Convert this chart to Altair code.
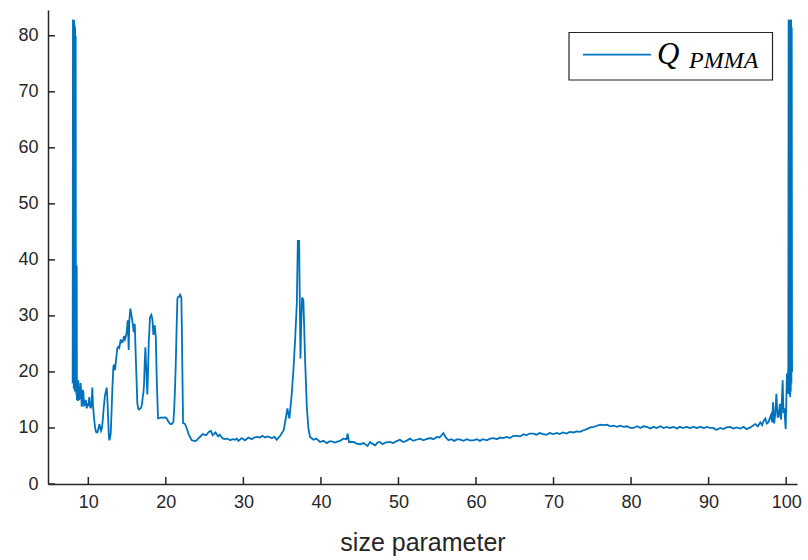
import altair as alt
import pandas as pd

# ---------------- data ----------------
size_param = [
    7.98, 8.02, 8.05, 8.09, 8.12, 8.16, 8.19, 8.23, 8.26, 8.30, 8.33, 8.37, 8.40, 8.46, 8.50, 8.53,
    8.58, 8.64, 8.71, 8.80, 8.93, 9.00, 9.06, 9.15, 9.23, 9.30, 9.36, 9.45, 9.57, 9.68, 9.79, 9.90,
    10.00, 10.13, 10.22, 10.31, 10.42, 10.52, 10.60, 10.65, 10.76, 10.86, 10.99, 11.16, 11.30, 11.42,
    11.55, 11.64, 11.76, 11.86, 12.00, 12.15, 12.30, 12.37, 12.45, 12.55, 12.65, 12.71, 12.80, 12.89,
    13.00, 13.10, 13.15, 13.23, 13.33, 13.45, 13.60, 13.74, 13.87, 14.00, 14.18, 14.30, 14.44, 14.61,
    14.72, 14.83, 14.95, 15.08, 15.15, 15.21, 15.29, 15.42, 15.52, 15.60, 15.73, 15.86, 15.99, 16.07,
    16.15, 16.32, 16.45, 16.58, 16.70, 16.80, 16.92, 17.02, 17.12, 17.19, 17.28, 17.36, 17.48, 17.61,
    17.70, 17.79, 17.96, 18.13, 18.25, 18.31, 18.39, 18.50, 18.57, 18.65, 18.70, 18.83, 18.99, 19.25,
    19.45, 19.68, 19.90, 20.12, 20.30, 20.45, 20.60, 20.76, 20.97, 21.08, 21.19, 21.28, 21.36, 21.49,
    21.60, 21.70, 21.83, 21.92, 22.00, 22.07, 22.13, 22.22, 22.48, 22.70, 22.99, 23.34, 23.60, 23.90,
    24.32, 24.76, 25.19, 25.54, 25.80, 26.05, 26.39, 26.74, 26.95, 27.16, 27.40, 27.64, 27.95, 28.28,
    28.60, 28.93, 29.15, 29.36, 29.79, 30.20, 30.65, 31.08, 31.40, 31.73, 32.16, 32.45, 32.80, 33.15,
    33.66, 34.00, 34.30, 34.74, 35.20, 35.50, 35.68, 35.80, 35.94, 36.24, 36.45, 36.67, 36.89, 37.02,
    37.19, 37.27, 37.36, 37.45, 37.57, 37.74, 37.96, 38.18, 38.39, 38.60, 39.03, 39.40, 39.90, 40.30,
    40.76, 41.10, 41.40, 41.80, 42.20, 42.48, 42.90, 43.30, 43.45, 43.62, 44.20, 44.60, 45.06, 45.50,
    46.00, 46.35, 46.60, 46.99, 47.30, 47.60, 47.95, 48.30, 48.90, 49.30, 49.70, 50.19, 50.60, 51.00,
    51.50, 51.90, 52.30, 52.80, 53.20, 53.60, 54.10, 54.50, 54.96, 55.30, 55.80, 56.10, 56.45, 56.80,
    57.20, 57.60, 57.96, 58.40, 58.80, 59.20, 59.68, 60.10, 60.50, 60.90, 61.40, 61.80, 62.26, 62.70,
    63.10, 63.50, 63.99, 64.40, 64.80, 65.28, 65.70, 66.13, 66.50, 66.90, 67.42, 67.80, 68.20, 68.71,
    69.10, 69.50, 70.00, 70.40, 70.80, 71.20, 71.70, 72.10, 72.58, 73.00, 73.40, 73.87, 74.30, 74.74,
    75.20, 75.60, 76.00, 76.45, 76.90, 77.30, 77.74, 78.20, 78.60, 79.03, 79.50, 79.90, 80.32, 80.80,
    81.20, 81.60, 82.05, 82.50, 82.90, 83.30, 83.80, 84.20, 84.60, 85.00, 85.48, 85.90, 86.30, 86.70,
    87.10, 87.60, 88.00, 88.50, 88.93, 89.40, 89.80, 90.20, 90.65, 90.90, 91.10, 91.50, 91.90, 92.30,
    92.80, 93.20, 93.60, 94.09, 94.50, 94.90, 95.38, 95.70, 96.02, 96.35, 96.67, 96.90, 97.10, 97.32,
    97.50, 97.70, 98.05, 98.20, 98.31, 98.45, 98.60, 98.74, 98.90, 99.03, 99.20, 99.35, 99.55, 99.65,
    99.77, 99.94, 100.10, 100.20, 100.28, 100.32, 100.36, 100.40, 100.44, 100.48, 100.52, 100.56,
    100.60, 100.64, 100.68, 100.72, 100.76,
]
q_pmma = [
    18.0, 82.9, 19.5, 82.6, 17.0, 82.8, 20.5, 82.0, 16.5, 81.5, 19.0, 80.0, 17.5, 16.0, 39.0, 15.0,
    18.5, 14.8, 18.5, 15.0, 15.5, 18.0, 17.0, 13.8, 14.6, 16.8, 16.4, 14.0, 14.1, 15.0, 13.5, 14.2,
    14.1, 15.5, 14.0, 13.5, 14.2, 17.2, 14.0, 13.2, 11.5, 10.2, 9.3, 9.2, 9.8, 10.7,
    10.0, 9.5, 10.0, 11.4, 13.8, 15.8, 16.8, 17.2, 15.5, 12.0, 8.5, 7.8, 8.2, 9.0,
    13.0, 17.0, 18.5, 20.9, 21.3, 20.3, 22.5, 24.2, 24.5, 24.3, 25.8, 25.3, 25.4, 26.4,
    25.8, 26.3, 27.1, 29.2, 26.5, 23.9, 29.2, 31.3, 30.5, 29.8, 28.6, 27.1, 28.6, 25.0,
    21.5, 14.4, 13.4, 13.3, 13.5, 13.6, 14.2, 15.5, 16.5, 17.9, 22.0, 24.4, 20.3, 16.0,
    20.0, 25.1, 29.8, 30.2, 29.5, 28.6, 26.6, 27.5, 28.3, 27.0, 26.3, 18.5, 11.7, 11.8,
    11.9, 11.8, 11.9, 11.7, 11.2, 10.9, 10.7, 10.7, 11.1, 13.5, 17.3, 21.5, 26.3, 33.1,
    33.4, 33.4, 33.8, 33.6, 33.1, 27.0, 20.3, 10.9, 10.7, 9.9, 8.7, 7.8, 7.7, 7.7,
    8.3, 8.9, 8.7, 9.3, 9.5, 8.7, 9.2, 8.5, 8.8, 8.4, 8.1, 8.0, 8.1, 7.8,
    8.0, 7.9, 8.1, 7.7, 8.2, 7.8, 8.3, 8.0, 8.3, 8.4, 8.3, 8.6, 8.3, 8.5,
    8.2, 8.4, 7.9, 8.6, 9.6, 12.0, 13.5, 12.5, 11.7, 16.1, 20.3, 25.7, 32.2, 43.4,
    43.4, 33.0, 22.4, 28.0, 33.3, 32.8, 22.1, 13.75, 9.9, 8.4, 7.9, 8.1, 7.5, 7.7,
    7.3, 7.6, 7.6, 7.4, 7.6, 7.7, 8.1, 8.0, 9.0, 7.5, 7.5, 7.2, 7.1, 7.3,
    6.8, 7.5, 7.2, 6.9, 7.4, 7.5, 7.1, 7.4, 7.5, 7.3, 7.6, 7.9, 7.5, 7.7,
    8.1, 7.7, 7.9, 8.1, 7.8, 8.0, 8.2, 8.0, 8.4, 8.3, 9.1, 8.3, 7.8, 8.0,
    7.7, 8.0, 7.9, 7.7, 8.0, 7.8, 7.8, 8.0, 7.7, 8.0, 7.8, 8.1, 8.2, 8.0,
    8.3, 8.2, 8.4, 8.2, 8.6, 8.6, 8.5, 8.9, 8.7, 9.0, 9.0, 8.8, 9.1, 8.9,
    8.8, 9.1, 8.9, 9.1, 8.9, 9.2, 9.0, 9.3, 9.2, 9.4, 9.3, 9.6, 9.8, 10.1,
    10.2, 10.4, 10.6, 10.5, 10.6, 10.3, 10.4, 10.2, 10.4, 10.2, 10.3, 10.0, 10.0, 10.3,
    10.0, 10.3, 10.2, 9.9, 10.2, 10.0, 10.3, 10.0, 10.2, 10.0, 10.2, 9.9, 10.2, 10.0,
    10.2, 10.0, 10.2, 10.0, 10.2, 10.0, 10.2, 10.0, 10.0, 9.7, 9.7, 10.0, 9.8, 10.1,
    10.2, 9.9, 10.1, 9.9, 10.2, 9.8, 10.1, 10.4, 10.7, 10.3, 11.0, 10.5, 11.3, 11.7,
    10.8, 11.0, 12.3, 11.0, 14.6, 10.8, 12.5, 16.1, 12.0, 12.0, 14.3, 11.5, 18.5, 13.0,
    13.2, 9.8, 19.7, 16.1, 21.4, 82.9, 16.0, 82.6, 17.0, 82.8, 15.5, 82.2,
    16.5, 82.9, 18.0, 81.5, 20.0,
]
x_ticks = [10, 20, 30, 40, 50, 60, 70, 80, 90, 100]
y_ticks = [0, 10, 20, 30, 40, 50, 60, 70, 80]
x_domain = [4.8, 101.4]
y_domain = [0, 84.6]
legend_main = "Q"
legend_sub = "PMMA"
x_title = "size parameter"

# ---------------- chart ----------------
W, H = 749, 474
LINE_COLOR = "#0072BD"
AX_COLOR = "#262626"

df = pd.DataFrame({"x": size_param, "q": q_pmma})
xs = alt.Scale(domain=x_domain, nice=False, zero=False)
ys = alt.Scale(domain=y_domain, nice=False, zero=False)
x_axis = alt.Axis(values=x_ticks, ticks=False, grid=False, labelPadding=9,
                  labelFlush=False, labelOverlap=False, title=x_title,
                  titlePadding=19, format="d")
y_axis = alt.Axis(values=y_ticks, ticks=False, grid=False, labelPadding=10,
                  labelOverlap=False, title="", format="d")

line = alt.Chart(df).mark_line(color=LINE_COLOR, strokeWidth=1.8, clip=True).encode(
    x=alt.X("x:Q", scale=xs, axis=x_axis, title=x_title),
    y=alt.Y("q:Q", scale=ys, axis=y_axis, title=""),
    order=alt.Order("x:Q"),
)

xt = alt.Chart(pd.DataFrame({"x": x_ticks})).mark_rule(color=AX_COLOR, strokeWidth=1.5).encode(
    x=alt.X("x:Q", scale=xs, axis=x_axis, title=x_title),
    y=alt.value(H - 7), y2=alt.value(H),
)
yt = alt.Chart(pd.DataFrame({"q": y_ticks})).mark_rule(color=AX_COLOR, strokeWidth=1.5).encode(
    y=alt.Y("q:Q", scale=ys, axis=y_axis, title=""),
    x=alt.value(0), x2=alt.value(7),
)

one = pd.DataFrame({"k": [0]})
leg_box = alt.Chart(one).mark_rect(fill="white", stroke=AX_COLOR, strokeWidth=1.2).encode(
    x=alt.value(521), x2=alt.value(724.5), y=alt.value(22.5), y2=alt.value(70),
)
leg_line = alt.Chart(one).mark_rule(color=LINE_COLOR, strokeWidth=1.8).encode(
    x=alt.value(535), x2=alt.value(603), y=alt.value(44.7),
)
leg_q = alt.Chart(one).mark_text(text=legend_main, font="Liberation Serif", fontStyle="italic",
                                 fontSize=31, align="left", baseline="alphabetic",
                                 color="#000000").encode(x=alt.value(609), y=alt.value(53.5))
leg_s = alt.Chart(one).mark_text(text=legend_sub, font="Liberation Serif", fontStyle="italic",
                                 fontSize=24, align="left", baseline="alphabetic",
                                 color="#000000").encode(x=alt.value(641), y=alt.value(58))

chart = alt.layer(line, xt, yt, leg_box, leg_line, leg_q, leg_s).properties(
    width=W, height=H,
    background="white",
    autosize=alt.AutoSizeParams(type="none"),
    padding={"left": 48, "top": 10, "right": 11, "bottom": 76},
).configure_view(strokeWidth=0).configure_axis(
    domainColor=AX_COLOR, domainWidth=1.5,
    labelFont="Liberation Sans", labelFontSize=18, labelColor=AX_COLOR,
    titleFont="Liberation Sans", titleFontSize=25, titleColor=AX_COLOR, titleFontWeight="normal",
)

chart.save("out.html", embed_options={"renderer": "svg", "actions": False})
